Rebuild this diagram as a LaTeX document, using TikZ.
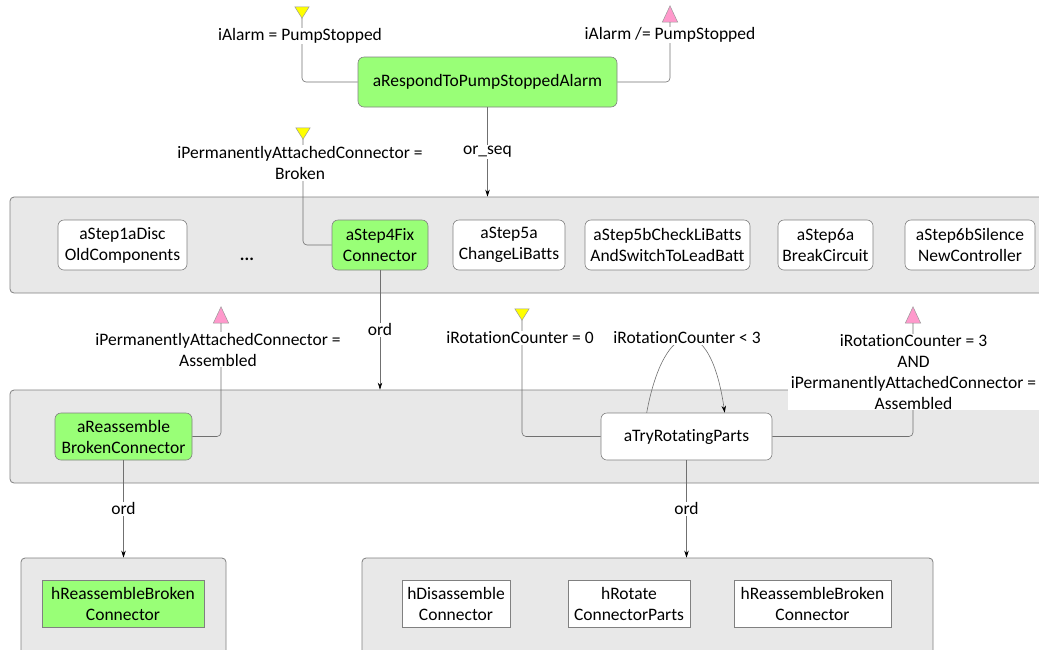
\documentclass[tikz,border=0pt]{standalone}
\usepackage{fontspec}
\setmainfont{Carlito}[Ligatures=NoCommon]
\usetikzlibrary{arrows.meta,calc}
\definecolor{actgreen}{HTML}{99FF77}
\definecolor{contfill}{HTML}{E8E8E8}
\definecolor{edgegray}{HTML}{808080}
\definecolor{linegray}{HTML}{707070}
\definecolor{pinktri}{HTML}{FF99CC}
\definecolor{yellowtri}{HTML}{FFFF00}
\begin{document}
\begin{tikzpicture}[x=1pt,y=-1pt,
  font=\fontsize{17.5}{21}\selectfont,
  container/.style={draw=edgegray, fill=contfill, rounded corners=4pt, line width=0.8pt, inner sep=0pt},
  act/.style={draw=edgegray, fill=white, rounded corners=6pt, align=center, inner sep=0pt, line width=0.6pt},
  green/.style={fill=actgreen},
  hbox/.style={draw=edgegray, fill=white, align=center, inner sep=0pt, line width=0.6pt},
  lbl/.style={fill=white, inner sep=1pt, align=center},
  conn/.style={draw=linegray, line width=0.6pt, rounded corners=4pt},
  flow/.style={draw=linegray, line width=0.6pt, -{Stealth[length=7pt,width=4.5pt,color=black]}},
  % invisible frames holding the condition markers
  preframe/.style={inner sep=0pt, minimum width=14, minimum height=11},
  postframe/.style={inner sep=0pt, minimum width=15, minimum height=16},
  pretri/.style={draw=black!40, fill=yellowtri, line width=0.5pt},
  posttri/.style={draw=black!40, fill=pinktri, line width=0.5pt},
]
\useasboundingbox (0,0) rectangle (1039,649);

% containers for the decompositions
\node[container, minimum width=1035, minimum height=96] (c1) at (527.5,245) {};
\node[container, minimum width=1035, minimum height=93] (c2) at (527.5,436.5) {};
\node[container, minimum width=205, minimum height=102] (c3) at (123.5,609) {};
\node[container, minimum width=571, minimum height=102] (c4) at (647.5,609) {};

% top activity
\node[act, green, minimum width=259, minimum height=50] (respond) at (487.5,82) {aRespondToPumpStoppedAlarm};

% first-level steps
\node[act, minimum width=129, minimum height=50] (s1) at (122.5,245) {aStep1aDisc\\OldComponents};
\node (dots) at (247,259) {\textbf{...}};
\node[act, green, minimum width=96, minimum height=50] (s4) at (380,245) {aStep4Fix\\Connector};
\node[act, minimum width=112, minimum height=50] (s5a) at (509,245) {aStep5a\\ChangeLiBatts};
\node[act, minimum width=165, minimum height=50] (s5b) at (667.5,245) {aStep5bCheckLiBatts\\AndSwitchToLeadBatt};
\node[act, minimum width=95, minimum height=50] (s6a) at (825.5,245) {aStep6a\\BreakCircuit};
\node[act, minimum width=130, minimum height=50] (s6b) at (970,245) {aStep6bSilence\\NewController};

% second-level activities
\node[act, green, minimum width=137, minimum height=47] (reasm) at (123.5,436.5) {aReassemble\\BrokenConnector};
\node[act, minimum width=171, minimum height=47] (trp) at (686.5,436.5) {aTryRotatingParts};

% human actions
\node[hbox, green, minimum width=162, minimum height=47] (h1) at (123,603.5) {hReassembleBroken\\Connector};
\node[hbox, minimum width=108, minimum height=47] (h2) at (456,603.5) {hDisassemble\\Connector};
\node[hbox, minimum width=122, minimum height=47] (h3) at (629,603.5) {hRotate\\ConnectorParts};
\node[hbox, minimum width=157, minimum height=47] (h4) at (812.5,603.5) {hReassembleBroken\\Connector};

% pre-condition markers (pointing down) and post-condition markers (pointing up)
\node[preframe]  (ty1) at (302,12.5) {};
\node[postframe] (tp1) at (670,14) {};
\node[preframe]  (ty2) at (303,133.5) {};
\node[postframe] (tp2) at (221,315) {};
\node[preframe]  (ty3) at (522,314.5) {};
\node[postframe] (tp3) at (913,315) {};
\foreach \t in {ty1,ty2,ty3}
  \draw[pretri] (\t.north west) -- (\t.north east) -- (\t.south) -- cycle;
\foreach \t in {tp1,tp2,tp3}
  \draw[posttri] (\t.south west) -- (\t.south east) -- (\t.north) -- cycle;

% condition connectors (drawn below their labels)
\draw[conn] (ty1.south) -- (ty1.south |- respond.west) -- (respond.west);
\draw[conn] (tp1.south) -- (tp1.south |- respond.east) -- (respond.east);
\draw[conn] (ty2.south) -- (ty2.south |- s4.west) -- (s4.west);
\draw[conn] (tp2.south) -- (tp2.south |- reasm.east) -- (reasm.east);
\draw[conn] (ty3.south) -- (ty3.south |- trp.west) -- (trp.west);
\draw[conn] (tp3.south) -- (tp3.south |- trp.east) -- (trp.east);

% repeat loop on aTryRotatingParts
\coordinate (loopout) at ($(trp.north west)+(46,0)$);
\coordinate (loopin) at ($(trp.north west)+(124,0)$);
\draw[flow] (loopout) .. controls (664,318) and (710,310) .. (loopin);

% condition labels
\node[lbl] (l1) at (300,36) {iAlarm = PumpStopped};
\node[lbl] (l2) at (670,35) {iAlarm /= PumpStopped};
\node[lbl] (l3) at (300,163) {iPermanentlyAttachedConnector =\\Broken};
\node[lbl] (l4) at (218,349.5) {iPermanentlyAttachedConnector =\\Assembled};
\node[lbl] (l5) at (520,338) {iRotationCounter = 0};
\node[lbl] (l6) at (687,338) {iRotationCounter < 3};
\node[lbl, inner sep=0pt, minimum width=251] (l7) at (913.5,372) {iRotationCounter = 3\\AND\\iPermanentlyAttachedConnector =\\Assembled};

% decomposition links
\draw[flow] (respond.south) -- node[lbl, pos=0.5] {or\_seq} (respond.south |- c1.north);
\draw[flow] (s4.south) -- node[lbl, pos=0.5] {ord} (s4.south |- c2.north);
\draw[flow] (reasm.south) -- node[lbl, pos=0.5] {ord} (reasm.south |- c3.north);
\draw[flow] (trp.south) -- node[lbl, pos=0.5] {ord} (trp.south |- c4.north);
\end{tikzpicture}
\end{document}
